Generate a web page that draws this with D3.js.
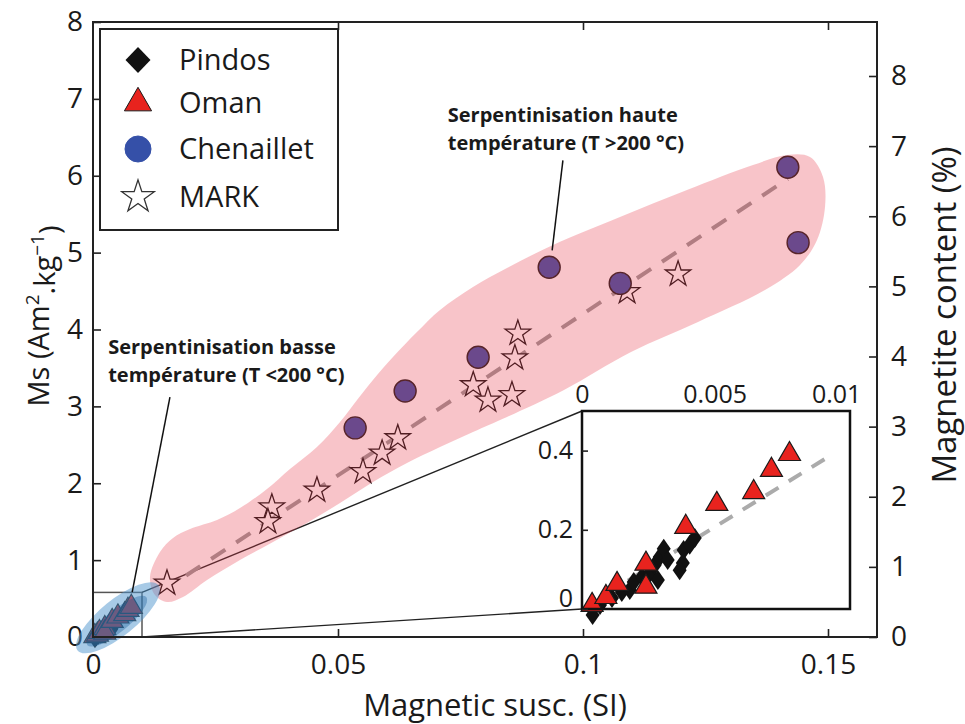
<!DOCTYPE html>
<html><head><meta charset="utf-8">
<script src="https://cdnjs.cloudflare.com/ajax/libs/d3/7.8.5/d3.min.js"></script>
<style>body{margin:0;background:#fff;} svg{display:block;font-family:"Open Sans",sans-serif;}</style>
</head><body><svg id="c" width="965" height="724"></svg>
<script>
// ---------- data ----------
const pindosX = [0.0004,0.00068,0.00113,0.0015,0.0018,0.00195,0.00226,0.00256,0.00274,0.00293,0.00308,0.00286,0.00323,0.0038,0.00383,0.00406,0.00425,0.00368,0.0004];
const pindosY = [0.0,0.010,0.028,0.043,0.048,0.068,0.081,0.091,0.111,0.131,0.152,0.073,0.124,0.116,0.149,0.162,0.179,0.098,-0.015];
const omanX = [0.00038,0.0009,0.00132,0.00241,0.00241,0.00391,0.00508,0.00647,0.00714,0.00782];
const omanY = [0.010,0.030,0.063,0.114,0.056,0.207,0.265,0.295,0.351,0.391];
const chenX = [0.0535,0.0637,0.0786,0.0931,0.1076,0.1418,0.1439];
const chenY = [2.72,3.20,3.64,4.81,4.60,6.11,5.13];
const markX = [0.0151,0.0365,0.0357,0.0457,0.0551,0.0590,0.0622,0.0776,0.0806,0.0855,0.0861,0.0867,0.1090,0.1194];
const markY = [0.70,1.69,1.50,1.91,2.15,2.39,2.59,3.28,3.08,3.15,3.63,3.95,4.49,4.72];
const fitMain = [[0.019,0.80],[0.1418,5.96]];
const fitInset = [[0,0],[0.0093,0.385]];
// outline of the high-temperature field (data units)
const hotFieldX = [0.01163,0.01367,0.01633,0.01980,0.02531,0.03000,0.03551,0.04020,0.04571,0.05041,0.05388,0.05714,0.06122,0.06612,0.07082,0.07755,0.08449,0.09388,0.10755,0.12122,0.13469,0.14163,0.14633,0.14898,0.14939,0.14776,0.14429,0.13714,0.12347,0.10980,0.09612,0.08449,0.07755,0.07082,0.06408,0.05714,0.05041,0.04367,0.03673,0.03000,0.02327,0.01837,0.01510,0.01265];
const hotFieldY = [0.780,1.106,1.288,1.405,1.522,1.678,1.925,2.185,2.472,2.797,3.083,3.343,3.642,3.967,4.254,4.553,4.800,5.099,5.463,5.815,6.140,6.270,6.244,5.984,5.593,5.164,4.839,4.514,4.098,3.707,3.213,2.862,2.667,2.472,2.263,2.016,1.743,1.483,1.236,1.002,0.741,0.520,0.455,0.546];
const coldFieldCenter = [0.0051,0.25];
const zoomBox = [0.01,0.58];
const xTicks = [0,0.05,0.1,0.15];
const xTickLabels = ["0","0.05","0.1","0.15"];
const yTicks = [0,1,2,3,4,5,6,7,8];
const y2Ticks = [0,1,2,3,4,5,6,7,8];
const xiTicks = [0,0.005,0.01];
const xiTickLabels = ["0","0.005","0.01"];
const yiTicks = [0,0.2,0.4];
const yiTickLabels = ["0","0.2","0.4"];
const legendNames = ["Pindos","Oman","Chenaillet","MARK"];
const noteLow = ["Serpentinisation basse","température (T <200 °C)"];
const noteHigh = ["Serpentinisation haute","température (T >200 °C)"];
const noteLowText = [0.0031,3.68], noteLowLine = [[0.0157,3.12],[0.0080,0.585]];
const noteHighText = [0.0724,6.70], noteHighLine = [[0.0959,6.20],[0.0937,5.03]];

// ---------- scales ----------
const svg = d3.select("#c");
const x = d3.scaleLinear().domain([0,0.16]).range([93,877]);
const y = d3.scaleLinear().domain([0,8]).range([637,22]);
const y2 = d3.scaleLinear().domain([0,8.77]).range([637,22]);
const xi = d3.scaleLinear().domain([0,0.0101]).range([582,850]);
const yi = d3.scaleLinear().domain([0,0.5]).range([609,411]);

const RED="#e8231e", BLUE="#3550a8", EDGE="#1a1a1a";
const diamond = (w,h)=>`M0,${-h}L${w},0L0,${h}L${-w},0Z`;
const tri = d3.symbol(d3.symbolTriangle,210)();
const star = d3.symbol(d3.symbolStar,200)();

svg.append("rect").attr("width",965).attr("height",724).attr("fill","#fff");

function styleAxis(g,fs){
  g.select(".domain").remove();
  g.selectAll(".tick line").attr("stroke","#222").attr("stroke-width",1.6);
  g.selectAll(".tick text").attr("fill","#1a1a1a").style("font-size",fs+"px").style("font-family",'"Open Sans",sans-serif');
}
// main axes
svg.append("g").attr("transform","translate(93,0)")
  .call(d3.axisLeft(y).tickValues(yTicks).tickSize(-8).tickPadding(10).tickFormat(d3.format("d")))
  .call(g=>styleAxis(g,28));
svg.append("g").attr("transform","translate(877,0)")
  .call(d3.axisRight(y2).tickValues(y2Ticks).tickSize(-8).tickPadding(14).tickFormat(d3.format("d")))
  .call(g=>styleAxis(g,28));
svg.append("g").attr("transform","translate(0,637)")
  .call(d3.axisBottom(x).tickValues(xTicks).tickSize(-8).tickPadding(17).tickFormat((d,i)=>xTickLabels[i]))
  .call(g=>styleAxis(g,28));
svg.append("g").attr("transform","translate(0,22)")
  .call(d3.axisTop(x).tickValues(xTicks.slice(1)).tickSize(-8).tickFormat(""))
  .call(g=>styleAxis(g,28));

// zoom rectangle + connectors
svg.append("rect").attr("x",x(0)).attr("y",y(zoomBox[1])).attr("width",x(zoomBox[0])-x(0)).attr("height",y(0)-y(zoomBox[1]))
  .attr("fill","none").attr("stroke","#555").attr("stroke-width",1.5);
svg.append("line").attr("x1",x(zoomBox[0])).attr("y1",y(zoomBox[1])).attr("x2",xi(0)).attr("y2",yi(0.5))
  .attr("stroke","#222").attr("stroke-width",1.4);
svg.append("line").attr("x1",x(zoomBox[0])).attr("y1",y(0)).attr("x2",xi(0)).attr("y2",yi(0))
  .attr("stroke","#222").attr("stroke-width",1.4);

// fit line main
svg.append("path").attr("d",d3.line().x(d=>x(d[0])).y(d=>y(d[1]))(fitMain))
  .attr("stroke","#9a9a9a").attr("stroke-width",4).attr("stroke-dasharray","17,13").attr("fill","none");

// main markers
const px = pindosX.map((v,i)=>[v,pindosY[i]]);
svg.append("g").selectAll("path").data(px).join("path").attr("d",diamond(7,10))
  .attr("transform",d=>`translate(${x(d[0])},${y(d[1])})`).attr("fill","#111");
const om = omanX.map((v,i)=>[v,omanY[i]]);
svg.append("g").selectAll("path").data(om).join("path").attr("d",tri)
  .attr("transform",d=>`translate(${x(d[0])},${y(d[1])})`).attr("fill",RED).attr("stroke",EDGE).attr("stroke-width",1.2);
const mk = markX.map((v,i)=>[v,markY[i]]);
svg.append("g").selectAll("path").data(mk).join("path").attr("d",star)
  .attr("transform",d=>`translate(${x(d[0])},${y(d[1])})`).attr("fill","#fff").attr("stroke","#111").attr("stroke-width",1.3);
const ch = chenX.map((v,i)=>[v,chenY[i]]);
svg.append("g").selectAll("circle").data(ch).join("circle").attr("cx",d=>x(d[0])).attr("cy",d=>y(d[1])).attr("r",11)
  .attr("fill",BLUE).attr("stroke",EDGE).attr("stroke-width",1.4);

// high-T field overlay
const hot = hotFieldX.map((v,i)=>[v,hotFieldY[i]]);
svg.append("path").attr("d",d3.line().x(d=>x(d[0])).y(d=>y(d[1])).curve(d3.curveCatmullRomClosed.alpha(0.5))(hot))
  .attr("fill","rgb(232,60,75)").attr("fill-opacity",0.3);
// low-T field overlay
const cx0=x(coldFieldCenter[0]), cy0=y(coldFieldCenter[1]);
svg.append("ellipse").attr("cx",cx0).attr("cy",cy0).attr("rx",52).attr("ry",18)
  .attr("transform",`rotate(-39,${cx0},${cy0})`).attr("fill","rgb(80,150,205)").attr("fill-opacity",0.5);
svg.append("ellipse").attr("cx",cx0-3).attr("cy",cy0+2).attr("rx",38).attr("ry",11)
  .attr("transform",`rotate(-39,${cx0},${cy0})`).attr("fill","rgb(20,90,150)").attr("fill-opacity",0.35);

// ---------- inset ----------
svg.append("rect").attr("x",xi(0)).attr("y",yi(0.5)).attr("width",xi(0.0101)-xi(0)).attr("height",yi(0)-yi(0.5)).attr("fill","#fff");
svg.append("path").attr("d",d3.line().x(d=>xi(d[0])).y(d=>yi(d[1]))(fitInset))
  .attr("stroke","#ababab").attr("stroke-width",4).attr("stroke-dasharray","15,12").attr("fill","none");
svg.append("g").selectAll("path").data(px).join("path").attr("d",diamond(7,10))
  .attr("transform",d=>`translate(${xi(d[0])},${yi(d[1])})`).attr("fill","#111");
svg.append("g").selectAll("path").data(om).join("path").attr("d",tri)
  .attr("transform",d=>`translate(${xi(d[0])},${yi(d[1])})`).attr("fill",RED).attr("stroke",EDGE).attr("stroke-width",1.2);
svg.append("rect").attr("x",xi(0)).attr("y",yi(0.5)).attr("width",xi(0.0101)-xi(0)).attr("height",yi(0)-yi(0.5))
  .attr("fill","none").attr("stroke","#111").attr("stroke-width",2.5);
const gil = svg.append("g").attr("transform",`translate(${xi(0)},0)`)
  .call(d3.axisLeft(yi).tickValues(yiTicks).tickSize(-6).tickPadding(9).tickFormat((d,i)=>yiTickLabels[i]))
  .call(g=>styleAxis(g,25));
gil.selectAll(".tick text").filter(d=>d===0).attr("dy","-0.12em");
const git = svg.append("g").attr("transform",`translate(0,${yi(0.5)})`)
  .call(d3.axisTop(xi).tickValues(xiTicks).tickSize(0).tickPadding(8).tickFormat((d,i)=>xiTickLabels[i]))
  .call(g=>styleAxis(g,25));
git.selectAll(".tick text").filter(d=>d===0.01).attr("dx","-0.45em");

// ---------- legend ----------
const lg = svg.append("g");
lg.append("rect").attr("x",100).attr("y",29).attr("width",238).attr("height",201).attr("fill","#fff").attr("stroke","#222").attr("stroke-width",2);
const ly = [60,103,149,197];
const lsym = [
  s=>s.append("path").attr("d",diamond(12.5,13)).attr("fill","#111"),
  s=>s.append("path").attr("d",d3.symbol(d3.symbolTriangle,320)()).attr("fill",RED).attr("stroke",EDGE).attr("stroke-width",1),
  s=>s.append("circle").attr("r",13).attr("fill",BLUE).attr("stroke",BLUE),
  s=>s.append("path").attr("d",d3.symbol(d3.symbolStar,330)()).attr("fill","#fff").attr("stroke","#333").attr("stroke-width",1.3)
];
legendNames.forEach((n,i)=>{
  const g = lg.append("g").attr("transform",`translate(138,${ly[i]})`);
  lsym[i](g);
  lg.append("text").attr("x",179).attr("y",ly[i]).attr("dy","0.36em").style("font-size","29px").attr("fill","#1a1a1a").text(n);
});

// ---------- axis titles ----------
const yl = svg.append("text").attr("transform","translate(49,316) rotate(-90)").attr("text-anchor","middle").style("font-size","29px").attr("fill","#1a1a1a");
yl.append("tspan").text("Ms (Am");
yl.append("tspan").attr("dy","-0.55em").style("font-size","19px").text("2");
yl.append("tspan").attr("dy","0.55em").text(".kg");
yl.append("tspan").attr("dy","-0.55em").style("font-size","19px").text("−1");
yl.append("tspan").attr("dy","0.55em").text(")");
svg.append("text").attr("transform","translate(956,315) rotate(-90)").attr("text-anchor","middle").style("font-size","33px").attr("fill","#1a1a1a").text("Magnetite content (%)");
svg.append("text").attr("x",495).attr("y",716).attr("text-anchor","middle").style("font-size","31px").attr("fill","#1a1a1a").text("Magnetic susc. (SI)");

// ---------- annotations ----------
function note(lines,pos,leader){
  svg.append("path").attr("d",d3.line().x(d=>x(d[0])).y(d=>y(d[1]))(leader)).attr("stroke","#111").attr("stroke-width",1.5).attr("fill","none");
  const t = svg.append("text").attr("x",x(pos[0])).attr("y",y(pos[1])).style("font-size","20px").style("font-weight","700").attr("fill","#1a1a1a");
  lines.forEach((l,i)=>t.append("tspan").attr("x",x(pos[0])).attr("dy",i?"1.4em":0).text(l));
}
note(noteLow,noteLowText,noteLowLine);
note(noteHigh,noteHighText,noteHighLine);

// frame
svg.append("rect").attr("x",x(0)).attr("y",y(8)).attr("width",x(0.16)-x(0)).attr("height",y(0)-y(8)).attr("fill","none").attr("stroke","#222").attr("stroke-width",2);
</script></body></html>
